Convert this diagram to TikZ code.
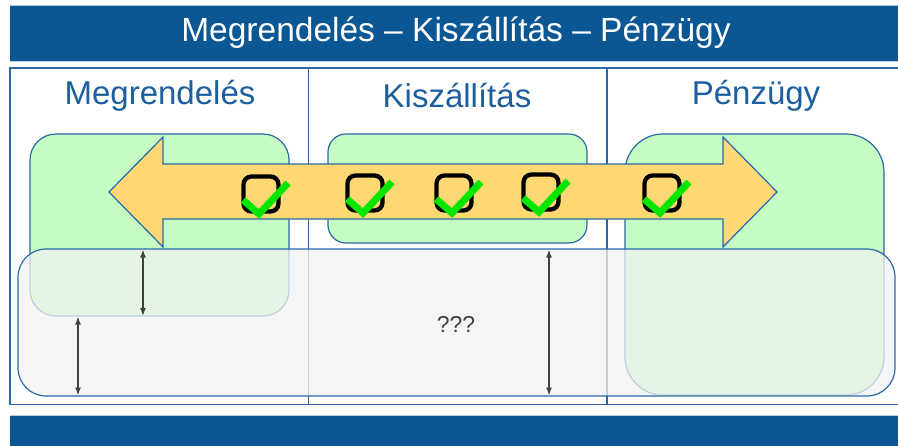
\documentclass[tikz,border=0pt]{standalone}
\usepackage{fontspec}
\setmainfont{Liberation Sans}
\usetikzlibrary{arrows.meta}
\definecolor{banner}{HTML}{0B5794}
\definecolor{frameblue}{HTML}{2A69A6}
\definecolor{headblue}{HTML}{1C5E9E}
\definecolor{lgreen}{HTML}{C4FCC4}
\definecolor{arrowfill}{HTML}{FDD873}
\definecolor{grayfill}{HTML}{F2F2F2}
\definecolor{darkarrow}{HTML}{404040}
\definecolor{ckgreen}{HTML}{00E600}
\tikzset{
  bannerbox/.style={fill=banner, draw=none},
  headtext/.style={text=headblue, font=\fontsize{33}{37}\selectfont},
  greenbox/.style={draw=frameblue, line width=1.2pt, fill=lgreen},
  graybox/.style={draw=frameblue, line width=1.2pt, fill=grayfill, fill opacity=0.75},
  measure/.style={draw=darkarrow, line width=1.5pt, {Latex[length=8pt,width=6pt]}-{Latex[length=8pt,width=6pt]}},
  ckbox/.style={draw=black, line width=4.3pt, rounded corners=8pt, minimum width=35pt, minimum height=35pt, inner sep=0pt},
  ckmark/.style={draw=ckgreen, line width=7pt},
}
\newcommand{\checkat}[2]{%
  \node[ckbox] (#1) at (#2) {};
  \draw[ckmark] ([shift={(-18,6)}]#1.center) -- ([shift={(-2,20)}]#1.center) -- ([shift={(27,-11)}]#1.center);
}
\begin{document}
\begin{tikzpicture}[x=1pt,y=-1pt]
\useasboundingbox (0,0) rectangle (898,445);
% banners
\draw[color=banner!30, line width=0.8pt] (10,5.5) -- (898,5.5);
\node[bannerbox, anchor=north west, minimum width=888pt, minimum height=55pt, inner sep=0pt] (top) at (10,6) {};
\node[text=white, font=\fontsize{33.5}{37}\selectfont] (title) at (456,33) {Megrendelés – Kiszállítás – Pénzügy};
\draw[color=banner!30, line width=0.8pt] (10,61.5) -- (898,61.5);
\draw[color=banner!30, line width=0.8pt] (10,415) -- (898,415);
\node[bannerbox, anchor=north west, minimum width=888pt, minimum height=30pt, inner sep=0pt] (bottom) at (10,416) {};
% table
\draw[frameblue, line width=1.4pt] (898,68) -- (10,68) -- (10,404.5) -- (898,404.5);
\draw[frameblue, line width=1.4pt] (308.5,68) -- (308.5,404.5);
\draw[frameblue, line width=1.4pt] (607,68) -- (607,404.5);
\node[headtext] (h1) at (160,96) {Megrendelés};
\node[headtext] (h2) at (457,96) {Kiszállítás};
\node[headtext] (h3) at (756,96) {Pénzügy};
% green boxes
\draw[greenbox, rounded corners=26pt] (30,134) rectangle (289,316);
\coordinate (g1bot) at (143,316);
\coordinate (g1botb) at (78,316.5);
\draw[greenbox, rounded corners=18pt] (328,134) rectangle (587,243);
\draw[greenbox, rounded corners=38pt] (625,134) rectangle (884,395);
% double arrow
\draw[draw=frameblue, line width=1.2pt, fill=arrowfill, line join=miter]
  (109,192) -- (163,137) -- (163,164) -- (723,164) -- (723,137) -- (777,192)
  -- (723,247) -- (723,219) -- (163,219) -- (163,247) -- cycle;
% checkboxes
\checkat{c1}{261,194}
\checkat{c2}{365,193}
\checkat{c3}{454,193}
\checkat{c4}{541,192}
\checkat{c5}{662,193}
% gray box
\draw[graybox, rounded corners=28pt] (18,249) rectangle (895,396);
\coordinate (graytop1) at (143,249.5);
\coordinate (graybot2) at (78,395.5);
\coordinate (graytop3) at (549,249.5);
\coordinate (graybot3) at (549,395.5);
% measure arrows
\draw[measure] (graytop1) -- (g1bot);
\draw[measure] (g1botb) -- (graybot2);
\draw[measure] (graytop3) -- (graybot3);
\node[text=darkarrow, font=\fontsize{23}{26}\selectfont] (q) at (456,324) {???};
\end{tikzpicture}
\end{document}
